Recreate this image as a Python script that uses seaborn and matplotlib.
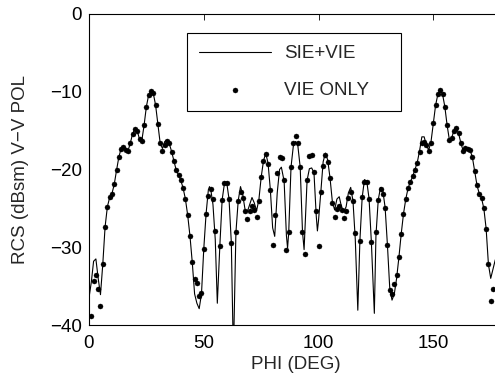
import matplotlib
matplotlib.use("Agg")
import matplotlib.pyplot as plt
import seaborn as sns
import pandas as pd

# SIE+VIE (solid line) samples
line_phi = [0, 1, 2, 3, 4, 5, 6, 7, 8, 9, 10, 11, 12, 13, 14, 15, 16, 17, 18, 19,
            20, 21, 22, 23, 24, 25, 26, 27, 28, 29, 30, 31, 32, 33, 34, 35, 36, 37, 38, 39,
            40, 41, 42, 43, 44, 45, 46, 47, 48, 49, 50, 51, 52, 52.5, 53, 54, 55, 55.9, 57, 58,
            59, 59.7, 60, 61, 62, 62.9, 64, 65, 66, 67, 68, 69, 70, 71, 72, 73, 74, 75, 76, 77,
            78, 79, 80, 80.9, 82, 83, 83.8, 85, 86, 86.5, 87, 88, 89, 90, 91, 92, 93, 93.7, 95, 96,
            97, 98, 99, 99.5, 100, 101, 102, 103, 104, 105, 106, 107, 108, 109, 110, 111, 112, 113, 114, 115,
            116, 117.1, 118, 119, 120, 121, 122, 123, 124.3, 125, 126, 127, 128, 129, 130, 131, 132, 133, 134, 135,
            136, 137, 138, 139, 140, 141, 142, 143, 144, 145, 146, 147, 148, 149, 150, 151, 152, 153, 154, 155,
            156, 157, 158, 159, 160, 161, 162, 163, 164, 165, 166, 167, 168, 169, 170, 171, 172, 173, 174, 175,
            176, 177, 178, 179, 180]
line_rcs = [-36.5, -34.5, -31.8, -31.5, -34.0, -36.1, -32.2, -27.4, -24.8, -23.6, -23.1, -21.9, -20.1, -18.4, -17.3, -17.1, -17.5, -17.6, -16.6, -15.4,
            -14.75, -15.0, -16.1, -16.3, -14.3, -11.9, -10.4, -9.9, -10.2, -11.7, -14.1, -16.6, -17.3, -16.4, -16.2, -16.7, -17.7, -18.9, -20.1, -20.7,
            -21.4, -22.4, -23.8, -25.9, -28.6, -32.0, -36.0, -37.2, -37.9, -36.0, -30.2, -25.7, -22.6, -22.2, -22.5, -24.5, -29.0, -37.2, -29.8, -23.9,
            -21.8, -21.6, -21.7, -23.8, -29.4, -44.0, -28.1, -24.0, -22.2, -23.3, -25.2, -25.4, -24.5, -23.6, -24.3, -25.3, -23.9, -21.0, -18.9, -17.9,
            -19.2, -22.6, -27.5, -28.6, -23.0, -20.0, -19.7, -21.5, -28.5, -30.1, -28.1, -19.7, -17.0, -16.4, -17.0, -19.7, -28.0, -30.3, -21.4, -19.9,
            -19.8, -20.4, -26.0, -27.9, -26.5, -22.85, -19.0, -17.9, -18.8, -21.1, -24.1, -25.2, -23.8, -23.5, -24.8, -25.4, -24.8, -23.0, -22.3, -24.05,
            -29.0, -38.1, -29.2, -23.6, -21.3, -21.5, -23.75, -29.3, -38.5, -28.5, -23.9, -22.3, -22.7, -24.9, -29.7, -35.2, -36.8, -36.0, -34.0, -31.3,
            -28.3, -25.7, -23.8, -22.4, -21.6, -20.9, -20.0, -19.1, -17.6, -15.8, -15.8, -16.9, -17.5, -16.4, -14.06, -11.7, -10.3, -9.8, -10.3, -11.9,
            -14.3, -16.2, -15.9, -15.0, -14.7, -15.35, -16.6, -17.6, -17.2, -17.3, -17.5, -18.4, -20.2, -22.0, -23.1, -23.7, -25.0, -27.6, -32.2, -34.0,
            -32.8, -31.6, -31.5, -33.5, -35.5]

# VIE ONLY (dots)
dot_phi = [1, 2, 3, 4, 5, 6, 7, 8, 9, 10, 11, 12, 13, 14, 15, 16, 17, 18, 19, 20,
           21, 22, 23, 24, 25, 26, 27, 28, 29, 30, 31, 32, 33, 34, 35, 36, 37, 38, 39, 40,
           41, 42, 43, 44, 45, 46, 47, 48, 49, 50, 51, 52, 53, 54, 55, 57, 58, 59, 60, 61,
           62, 64, 65, 66, 67, 68, 69, 70, 71, 72, 73, 74, 75, 76, 77, 78, 79, 80, 81, 82,
           83, 84, 85, 86, 87, 88, 89, 90, 91, 92, 93, 94, 95, 96, 97, 98, 99, 100, 101, 102,
           103, 104, 105, 106, 107, 108, 109, 110, 111, 112, 113, 114, 115, 116, 118, 119, 120, 121, 122, 123,
           125, 126, 127, 128, 129, 130, 131, 132, 133, 134, 135, 136, 137, 138, 139, 140, 141, 142, 143, 144,
           145, 146, 147, 148, 149, 150, 151, 152, 153, 154, 155, 156, 157, 158, 159, 160, 161, 162, 163, 164,
           165, 166, 167, 168, 169, 170, 171, 172, 173, 174, 175, 176]
dot_rcs = [-38.8, -34.4, -33.6, -35.4, -37.5, -32.2, -27.4, -24.8, -23.6, -23.1, -21.9, -20.1, -18.4, -17.3, -17.1, -17.5, -17.6, -16.6, -15.4, -14.75,
           -15.0, -16.1, -16.3, -14.3, -11.9, -10.4, -9.9, -10.2, -11.7, -14.1, -16.6, -17.6, -16.85, -16.3, -16.6, -17.7, -18.9, -20.1, -20.7, -21.4,
           -22.4, -23.8, -25.9, -28.6, -31.9, -34.1, -34.6, -36.3, -35.9, -30.2, -25.7, -23.4, -22.5, -23.8, -27.9, -29.8, -23.9, -21.8, -21.7, -23.8,
           -29.4, -28.1, -24.0, -22.85, -23.7, -25.4, -26.4, -25.4, -24.7, -25.2, -26.1, -24.0, -21.0, -18.9, -18.0, -19.3, -22.6, -29.7, -25.85, -20.4,
           -18.35, -18.5, -21.35, -30.4, -28.1, -19.7, -16.55, -15.7, -16.55, -19.7, -28.0, -30.9, -21.4, -18.3, -18.1, -20.3, -25.4, -29.8, -22.85, -19.5,
           -18.1, -19.0, -21.1, -24.35, -26.15, -25.1, -24.7, -25.2, -26.3, -25.3, -23.7, -22.85, -24.05, -28.2, -29.2, -23.6, -21.6, -21.6, -23.75, -29.3,
           -28.0, -23.9, -22.5, -23.15, -24.9, -29.7, -35.5, -36.0, -34.7, -33.6, -31.3, -28.3, -25.7, -23.8, -22.4, -21.6, -20.9, -20.0, -19.1, -17.8,
           -16.6, -16.4, -16.85, -17.6, -16.6, -14.06, -11.7, -10.3, -9.8, -10.3, -11.9, -14.3, -16.2, -15.9, -15.0, -14.7, -15.35, -16.6, -17.6, -17.2,
           -17.3, -17.5, -18.4, -20.2, -22.0, -23.1, -23.7, -25.0, -27.6, -32.2, -36.9, -35.4]

x_ticks = [0, 50, 100, 150]
y_ticks = [0, -10, -20, -30, -40]

sns.set_style("white")
plt.rcParams['font.family'] = ['Liberation Sans', 'DejaVu Sans']
plt.rcParams['font.size'] = 13.5

fig = plt.figure(figsize=(4.95, 3.81), dpi=100)
ax = fig.add_axes([89 / 495, 56 / 381, 413.2 / 495, 311 / 381])

line_df = pd.DataFrame({"phi": line_phi, "rcs": line_rcs})
dot_df = pd.DataFrame({"phi": dot_phi, "rcs": dot_rcs})

sns.lineplot(data=line_df, x="phi", y="rcs", ax=ax, color="black", linewidth=0.8,
             label="SIE+VIE", sort=False, estimator=None)
sns.scatterplot(data=dot_df, x="phi", y="rcs", ax=ax, color="black", s=13,
                edgecolor="black", linewidth=0.3, label="VIE ONLY", zorder=3)

ax.set_xlim(0, 180)
ax.set_ylim(-40, 0)
ax.set_xticks(x_ticks)
ax.set_yticks(y_ticks)
ax.set_xlabel("PHI (DEG)", fontsize=13.5, labelpad=3)
ax.set_ylabel("RCS (dBsm) V\u2212V POL", fontsize=13.5, labelpad=15)
ax.tick_params(direction="in", length=4, width=0.6, top=True, right=True,
               labelsize=13.5, pad=7, colors="black")
ax.tick_params(axis="y", pad=5)
for sp in ax.spines.values():
    sp.set_visible(True)
    sp.set_color("black")
    sp.set_linewidth(0.8)

leg = ax.legend(loc="upper left", bbox_to_anchor=(0.237, 0.698, 0.518, 0.241),
                mode="expand", frameon=True, fancybox=False, shadow=False,
                handlelength=3.8, handletextpad=0.7, borderpad=0.66,
                labelspacing=1.02, scatterpoints=1, fontsize=13.5, borderaxespad=0)
leg.get_frame().set_edgecolor("black")
leg.get_frame().set_linewidth(0.8)
leg.get_frame().set_alpha(1)

fig.savefig("out.png", dpi=100)
